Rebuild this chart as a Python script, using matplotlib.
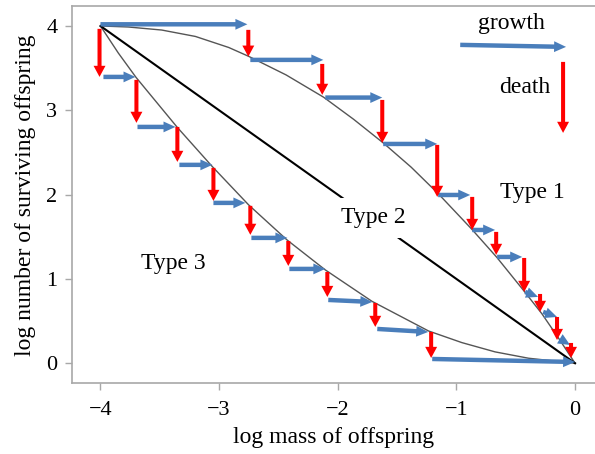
import matplotlib
matplotlib.use("Agg")
import matplotlib.pyplot as plt
from matplotlib.patches import ArrowStyle

plt.rcParams['font.family'] = ['Liberation Serif', 'DejaVu Serif']
plt.rcParams['axes.unicode_minus'] = True

# ---- data ----
xticks = [-4, -3, -2, -1, 0]
yticks = [0, 1, 2, 3, 4]

type1_x = [-4.0, -3.766, -3.484, -3.2, -2.919, -2.751, -2.436, -2.119, -1.867,
           -1.614, -1.381, -1.151, -0.870, -0.660, -0.435, -0.281, -0.140, 0.0]
type1_y = [4.0, 3.988, 3.952, 3.876, 3.745, 3.64, 3.42, 3.155, 2.894,
           2.610, 2.325, 2.008, 1.589, 1.257, 0.865, 0.59, 0.30, 0.0]

type2_x = [-4.0, 0.0]
type2_y = [4.0, 0.0]

type3_x = [-4.0, -3.85, -3.700, -3.354, -3.059, -2.751, -2.428, -2.105,
           -1.712, -1.235, -0.954, -0.674, -0.393, 0.0]
type3_y = [4.0, 3.68, 3.39, 2.80, 2.335, 1.878, 1.463, 1.107,
           0.735, 0.383, 0.245, 0.135, 0.06, 0.0]

# growth arrows (blue) along type 1
t1_grow_x0 = [-4.0, -2.737, -2.105, -1.617, -1.154, -0.867, -0.657, -0.421, -0.269, -0.126]
t1_grow_x1 = [-2.762, -2.122, -1.625, -1.162, -0.884, -0.674, -0.446, -0.312, -0.152, -0.042]
t1_grow_y0 = [4.02, 3.598, 3.151, 2.601, 1.996, 1.581, 1.261, 0.846, 0.609, 0.288]
t1_grow_y1 = [4.02, 3.598, 3.151, 2.601, 1.996, 1.581, 1.261, 0.787, 0.549, 0.217]
# death arrows (red) along type 1
t1_death_x = [-2.754, -2.131, -1.625, -1.162, -0.867, -0.665, -0.429, -0.295, -0.152, -0.034]
t1_death_y0 = [3.954, 3.550, 3.123, 2.590, 1.973, 1.558, 1.249, 0.822, 0.549, 0.241]
t1_death_y1 = [3.636, 3.183, 2.613, 1.973, 1.581, 1.285, 0.846, 0.609, 0.276, 0.063]

# growth arrows (blue) along type 3
t3_grow_x0 = [-3.975, -3.688, -3.335, -3.048, -2.728, -2.408, -2.080, -1.667, -1.204]
t3_grow_x1 = [-3.705, -3.368, -3.057, -2.779, -2.425, -2.105, -1.709, -1.238, 0.0]
t3_grow_y0 = [3.396, 2.803, 2.353, 1.902, 1.487, 1.119, 0.751, 0.407, 0.051]
t3_grow_y1 = [3.396, 2.803, 2.353, 1.902, 1.487, 1.119, 0.727, 0.371, 0.015]
# death arrows (red) along type 3
t3_death_x = [-4.008, -3.697, -3.352, -3.048, -2.737, -2.417, -2.088, -1.684, -1.213]
t3_death_y0 = [3.966, 3.361, 2.803, 2.317, 1.867, 1.450, 1.083, 0.715, 0.371]
t3_death_y1 = [3.396, 2.851, 2.388, 1.925, 1.523, 1.154, 0.786, 0.431, 0.063]

# key arrows
key_grow = [(-0.968, 3.776), (-0.076, 3.752)]
key_death = [(-0.101, 3.574), (-0.101, 2.732)]

labels = ["Type 1", "Type 2", "Type 3"]
label_x = [-0.358, -1.697, -3.385]
label_y = [1.955, 1.66, 1.115]

# ---- figure ----
W, H = 595, 454
fig = plt.figure(figsize=(W / 100, H / 100), dpi=100)
ax = fig.add_axes([72 / W, 1 - 383 / H, (W - 72) / W, (383 - 6) / H])
ax.set_xlim(-4.24, 0.168)
ax.set_ylim(-0.234, 4.237)

BLUE = '#4a7ebb'
RED = '#ff0000'
SPINE = '#a8a8a8'

ax.plot(type1_x, type1_y, color='#555555', lw=1.0, zorder=2,
        solid_capstyle='round', solid_joinstyle='round')
ax.plot(type3_x, type3_y, color='#555555', lw=1.0, zorder=2,
        solid_capstyle='round', solid_joinstyle='round')
ax.plot(type2_x, type2_y, color='black', lw=1.5, zorder=2)

blue_style = ArrowStyle.Simple(head_length=0.86, head_width=0.78, tail_width=0.32)
red_style = ArrowStyle.Simple(head_length=0.8, head_width=0.86, tail_width=0.29)


def arrow(p0, p1, style, color):
    ax.annotate('', xy=p1, xytext=p0, xycoords='data', textcoords='data',
                arrowprops=dict(arrowstyle=style, color=color, lw=0,
                                shrinkA=0, shrinkB=0, mutation_scale=10),
                zorder=4)


for x0, x1, y0, y1 in zip(t1_grow_x0, t1_grow_x1, t1_grow_y0, t1_grow_y1):
    arrow((x0, y0), (x1, y1), blue_style, BLUE)
for x0, x1, y0, y1 in zip(t3_grow_x0, t3_grow_x1, t3_grow_y0, t3_grow_y1):
    arrow((x0, y0), (x1, y1), blue_style, BLUE)
for x, y0, y1 in zip(t1_death_x, t1_death_y0, t1_death_y1):
    arrow((x, y0), (x, y1), red_style, RED)
for x, y0, y1 in zip(t3_death_x, t3_death_y0, t3_death_y1):
    arrow((x, y0), (x, y1), red_style, RED)

arrow(key_grow[0], key_grow[1], blue_style, BLUE)
arrow(key_death[0], key_death[1], red_style, RED)

FS = 17
ax.text(-0.535, 3.966, "growth", ha='center', va='baseline', fontsize=FS, zorder=6)
ax.text(-0.425, 3.203, "death", ha='center', va='baseline', fontsize=FS, zorder=6)

for lab, lx, ly in zip(labels, label_x, label_y):
    kw = {}
    if lab == "Type 2":
        kw['bbox'] = dict(boxstyle='square,pad=0.4', fc='white', ec='none')
    ax.text(lx, ly, lab, ha='center', va='baseline', fontsize=FS, zorder=6, **kw)

ax.set_xticks(xticks)
ax.set_yticks(yticks)
ax.set_xticklabels(["\u2212%d" % abs(v) if v < 0 else str(v) for v in xticks])
ax.tick_params(axis='both', colors=SPINE, labelcolor='black', labelsize=16,
               length=5, width=1.0, direction='out')
ax.tick_params(axis='x', pad=8)
ax.tick_params(axis='y', pad=5.5)

for side in ['left', 'bottom', 'top']:
    ax.spines[side].set_color(SPINE)
    ax.spines[side].set_linewidth(1.2)
ax.spines['right'].set_visible(False)

fig.text((72 + 595) / 2 / W, 1 - 443 / H, "log mass of offspring", ha='center',
         va='baseline', fontsize=FS)
fig.text(26 / W, 1 - 195 / H, "log number of surviving offspring", ha='center',
         va='center', rotation=90, fontsize=FS)

fig.savefig("out.png", dpi=100)
